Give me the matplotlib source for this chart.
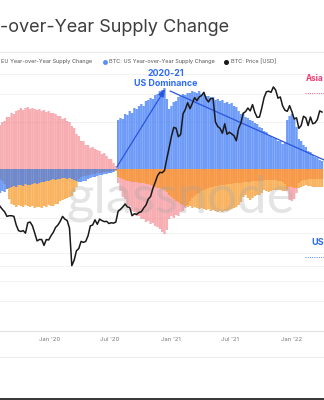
import matplotlib
matplotlib.use("Agg")
import matplotlib.pyplot as plt
import matplotlib.dates as mdates
from matplotlib.lines import Line2D
from matplotlib.patches import Rectangle
import pandas as pd

W, H = 324, 400

# Weekly observations
dates = pd.date_range("2019-08-05", periods=140, freq="7D")

# Year-over-year change in regional share of supply (percentage points)
us_change = [
    -2.4, -2.2, -2.3, -2.0, -1.9, -1.8, -1.7, -1.8, -1.6, -1.6,
    -1.7, -1.5, -1.6, -1.6, -1.5, -1.4, -1.5, -1.4, -1.3, -1.3,
    -1.2, -1.2, -1.1, -1.0, -1.1, -1.0, -1.0, -0.9, -0.9, -1.0,
    -0.9, -1.0, -1.1, -1.2, -1.3, -1.3, -1.2, -1.2, -1.0, -0.9,
    -0.8, -0.8, -0.7, -0.6, -0.6, -0.5, -0.5, -0.4, -0.4, -0.3,
    -0.1, 4.9, 5.1, 5.0, 5.5, 5.4, 5.8, 5.6, 6.1, 6.0,
    6.3, 6.5, 6.3, 6.8, 6.9, 7.1, 7.0, 7.4, 7.5, 7.8,
    7.9, 8.1, 7.0, 6.0, 6.3, 6.7, 6.8, 7.2, 7.3, 7.5,
    7.4, 7.6, 7.6, 7.8, 7.7, 7.6, 7.8, 7.5, 7.6, 7.3,
    7.3, 7.1, 7.2, 6.9, 7.0, 6.8, 6.9, 6.6, 6.7, 6.5,
    6.6, 6.3, 6.2, 5.8, 5.5, 5.6, 5.2, 5.1, 4.9, 4.8,
    4.6, 4.5, 4.2, 4.1, 3.8, 3.7, 3.4, 3.3, 3.1, 3.1,
    2.8, 2.8, 2.5, 2.6, 4.9, 5.3, 5.5, 5.0, 4.2, 3.0,
    2.8, 2.4, 2.2, 1.8, 1.7, 1.4, 1.2, 1.1, 0.9, 0.8,
]

eu_change = [
    4.4, 4.7, 4.8, 5.2, 5.2, 5.6, 5.5, 5.8, 5.9, 6.1,
    5.9, 6.1, 6.2, 6.0, 6.1, 6.0, 5.9, 6.0, 5.8, 5.9,
    5.7, 5.8, 5.6, 5.6, 5.5, 5.3, 5.3, 5.0, 5.1, 4.8,
    4.7, 4.3, 4.1, 3.5, 3.3, 2.8, 2.8, 2.4, 2.4, 2.1,
    2.2, 2.0, 1.9, 1.8, 1.5, 1.6, 1.3, 1.0, 1.0, 0.6,
    0.3, -1.4, -2.2, -2.8, -3.0, -3.6, -3.7, -4.2, -4.3, -4.7,
    -4.7, -5.0, -5.0, -5.3, -5.2, -5.5, -5.4, -5.7, -5.8, -6.0,
    -6.3, -6.5, -6.1, -5.0, -4.7, -4.9, -4.6, -4.7, -4.3, -4.2,
    -3.9, -3.6, -3.2, -2.9, -2.7, -2.5, -2.4, -2.2, -2.1, -2.0,
    -1.9, -1.8, -1.8, -1.7, -1.7, -1.6, -1.6, -1.6, -1.5, -1.5,
    -1.5, -1.4, -1.4, -1.4, -1.4, -1.3, -1.3, -1.3, -1.3, -1.2,
    -1.2, -1.2, -1.2, -1.2, -1.1, -1.1, -1.1, -1.1, -1.1, -1.1,
    -1.2, -1.2, -1.3, -1.5, -2.2, -3.1, -3.2, -3.0, -2.4, -1.4,
    -1.2, -1.1, -1.1, -1.0, -1.0, -1.0, -1.0, -1.0, -1.0, -1.0,
]

asia_change = [
    -1.0, -1.2, -1.5, -2.0, -3.0, -3.5, -3.6, -3.8, -3.6, -3.7,
    -3.8, -3.6, -3.7, -3.8, -3.7, -3.9, -3.8, -3.8, -3.9, -3.7,
    -3.8, -3.6, -3.7, -3.7, -3.5, -3.5, -3.2, -3.1, -3.0, -2.9,
    -2.8, -2.7, -2.3, -1.8, -1.0, -0.8, -0.7, -0.7, -0.6, -0.6,
    -0.5, -0.5, -0.4, -0.4, -0.4, -0.3, -0.3, -0.3, -0.2, -0.2,
    -0.2, -0.8, -0.9, -1.0, -1.1, -1.2, -1.2, -1.3, -1.3, -1.3,
    -1.4, -1.4, -1.4, -1.5, -1.5, -1.6, -1.7, -1.8, -1.9, -1.9,
    -2.0, -2.1, -2.3, -2.6, -2.8, -3.0, -3.2, -3.3, -3.5, -3.6,
    -3.7, -3.8, -3.7, -3.9, -3.8, -3.9, -4.0, -3.9, -4.0, -4.1,
    -4.0, -4.2, -4.1, -4.2, -4.3, -4.2, -4.3, -4.2, -4.2, -4.1,
    -4.0, -3.9, -3.8, -3.6, -3.3, -2.8, -2.6, -2.9, -3.1, -2.9,
    -2.7, -2.6, -2.6, -2.4, -2.1, -2.2, -2.3, -2.2, -2.1, -2.1,
    -2.1, -2.1, -2.2, -2.2, -2.0, -1.8, -1.8, -1.9, -1.9, -1.9,
    -1.8, -1.7, -1.6, -1.7, -1.7, -1.8, -1.8, -1.8, -1.8, -1.8,
]

# BTC price, USD
btc_price = [
    11800, 11300, 10900, 10200, 10300, 10300, 10200, 9000, 8300, 8200,
    8300, 8000, 9300, 9400, 8900, 8000, 7150, 7300, 7300, 6700,
    7300, 7250,
    7700, 8100, 8700, 9000, 9500, 10200, 9800, 9600, 8600, 5000,
    5400, 6200, 6400, 7100, 7000, 7100, 7700, 8900, 9000, 9700,
    9100, 9800, 9600, 9450, 9500, 9200, 9300, 9250, 9400, 11000,
    11300, 11700, 12200, 11700, 11600, 10300, 10600, 10500, 10800, 10900,
    11500, 12000, 13100, 13600, 15300, 16700, 18400, 19300, 19200, 19800,
    23500, 27500,
    32500, 37000, 36600, 32300, 33500, 45000, 48000, 53000, 48500, 52400,
    57000, 54500, 57500, 58700, 61500, 56000, 53500, 56500, 56000, 40000,
    37500, 36500, 34000, 39000, 33500, 34500, 33700, 32800, 30500, 36500,
    39500, 45500, 46500, 49000, 47000, 51500, 46000, 42800, 43000, 49000,
    57000, 62000, 62500, 61500, 66500, 63500, 56500, 57500, 50500, 47500,
    46700, 50700,
    46500, 41800, 42500, 36500, 38000, 43500, 42500, 38000, 43000, 39000,
    39500, 41500, 47000, 46200,
]

tick_dates = ["2020-01-01", "2020-07-01", "2021-01-01", "2021-07-01", "2022-01-01"]
tick_labels = ["Jan '20", "Jul '20", "Jan '21", "Jul '21", "Jan '22"]
grid_prices = [3000, 4000, 5000, 6000, 8000, 10000, 20000, 40000, 60000, 80000]

x_start, x_end = "2019-08-05", "2022-04-10"
price_lim = (1940, 84970)
change_lim = (-16.2, 9.9)

eu_color = "#f4777f"
asia_color = "#f7931a"
us_color = "#3d7af5"
price_color = "#1a1a1a"
note_blue = "#2f6cf5"
note_pink = "#ee3a6e"

FONT = ["Inter", "DejaVu Sans"]


def fx(px):
    return px / W


def fy(py):
    return 1 - py / H


def d2n(s):
    return mdates.date2num(pd.Timestamp(s))


fig = plt.figure(figsize=(W / 100, H / 100), dpi=100)
fig.patch.set_facecolor("white")

# Base axes: log price gridlines and the date axis
ax = fig.add_axes([0, fy(331), 1, fy(70) - fy(331)])
ax.set_yscale("log")
ax.set_ylim(*price_lim)
ax.set_yticks(grid_prices)
ax.yaxis.set_minor_locator(matplotlib.ticker.NullLocator())
ax.yaxis.grid(True, color="#f0f0f0", lw=0.6)
for side in ("top", "left", "right"):
    ax.spines[side].set_visible(False)
ax.spines["bottom"].set_color("#e2e2e2")
ax.spines["bottom"].set_linewidth(0.8)
ax.patch.set_facecolor("white")

# Regional supply change bars
axb = ax.twinx()
axb.set_ylim(*change_lim)
bar_kw = dict(width=7.0, linewidth=0, snap=False)
axb.bar(dates, eu_change, color=eu_color, alpha=0.6, zorder=1, **bar_kw)
axb.bar(dates, asia_change, color=asia_color, alpha=0.7, zorder=2, **bar_kw)
axb.bar(dates, us_change, color=us_color, alpha=0.75, zorder=3, **bar_kw)
axb.axis("off")

axb.text(fx(181), fy(212), "glassnode", transform=fig.transFigure, ha="center",
         va="baseline", fontsize=38, color="#a6a6a6", alpha=0.3,
         family=["Lato", "DejaVu Sans"], zorder=10)

# Annotation arrows
axb.annotate("", xy=(d2n("2020-12-16"), 8.0), xytext=(d2n("2020-07-23"), 0.2),
             arrowprops=dict(arrowstyle="-|>,head_length=0.45,head_width=0.18",
                             color="#2a55e0", lw=0.9, shrinkA=0, shrinkB=0),
             zorder=12, annotation_clip=False)
axb.annotate("", xy=(d2n("2022-04-14"), 0.85), xytext=(d2n("2020-12-31"), 7.8),
             arrowprops=dict(arrowstyle="-", color="#2a55e0", lw=0.9,
                             shrinkA=0, shrinkB=0),
             zorder=12, annotation_clip=False)

# Price line
axp = ax.twinx()
axp.set_yscale("log")
axp.set_ylim(*price_lim)
axp.plot(dates, btc_price, color=price_color, lw=1.1, zorder=5)
axp.axis("off")

ax.set_xlim(d2n(x_start), d2n(x_end))
ax.set_xticks([d2n(d) for d in tick_dates])
ax.set_xticklabels(tick_labels, fontsize=4.3, color="#7a7a7a", family=FONT)
ax.tick_params(axis="x", length=0, pad=4.5)
ax.tick_params(axis="y", which="both", left=False, right=False,
               labelleft=False, labelright=False)

# Title and legend
fig.text(fx(-0.5), fy(32), "-over-Year Supply Change", ha="left", va="baseline",
         fontsize=13, color="#3d3d3d", family=FONT)
fig.add_artist(Line2D([0, 1], [fy(52), fy(52)], transform=fig.transFigure,
                      color="#ebebeb", lw=0.8))

leg_y = fy(61.5)
fig.text(fx(1), leg_y, "EU Year-over-Year Supply Change", ha="left", va="center",
         fontsize=4.0, color="#555555", family=FONT)
fig.add_artist(Line2D([fx(104.5)], [leg_y], transform=fig.transFigure, marker="o",
                      ms=2.6, color=us_color, alpha=0.75, lw=0))
fig.text(fx(109), leg_y, "BTC: US Year-over-Year Supply Change", ha="left", va="center",
         fontsize=4.0, color="#555555", family=FONT)
fig.add_artist(Line2D([fx(226)], [leg_y], transform=fig.transFigure, marker="o",
                      ms=2.6, color=price_color, lw=0))
fig.text(fx(230.5), leg_y, "BTC: Price [USD]", ha="left", va="center",
         fontsize=4.0, color="#555555", family=FONT)

# Text notes
fig.text(fx(165.5), fy(74), "2020-21", ha="center", va="center", fontsize=6.4,
         color=note_blue, fontweight="bold", family=FONT)
fig.text(fx(166), fy(84), "US Dominance", ha="center", va="center", fontsize=6.4,
         color=note_blue, fontweight="bold", family=FONT)

fig.text(fx(305.5), fy(78.5), "Asia", ha="left", va="center", fontsize=5.9,
         color=note_pink, fontweight="bold", family=FONT)
fig.add_artist(Line2D([fx(305), fx(324)], [fy(93), fy(93)], transform=fig.transFigure,
                      color=note_pink, lw=0.7, ls=(0, (1, 1.3)), alpha=0.8))
fig.text(fx(311), fy(242.5), "US", ha="left", va="center", fontsize=6.5,
         color=note_blue, fontweight="bold", family=FONT)
fig.add_artist(Line2D([fx(305), fx(324)], [fy(257), fy(257)], transform=fig.transFigure,
                      color=note_blue, lw=0.7, ls=(0, (1, 1.3)), alpha=0.8))

# Footer rules
fig.add_artist(Line2D([0, 1], [fy(357), fy(357)], transform=fig.transFigure,
                      color="#ececec", lw=0.8))
fig.add_artist(Rectangle((0, 0), 1, 2.2 / H, transform=fig.transFigure,
                         color="#3a3a3a", lw=0))

fig.savefig("out.png", dpi=100, facecolor="white")
